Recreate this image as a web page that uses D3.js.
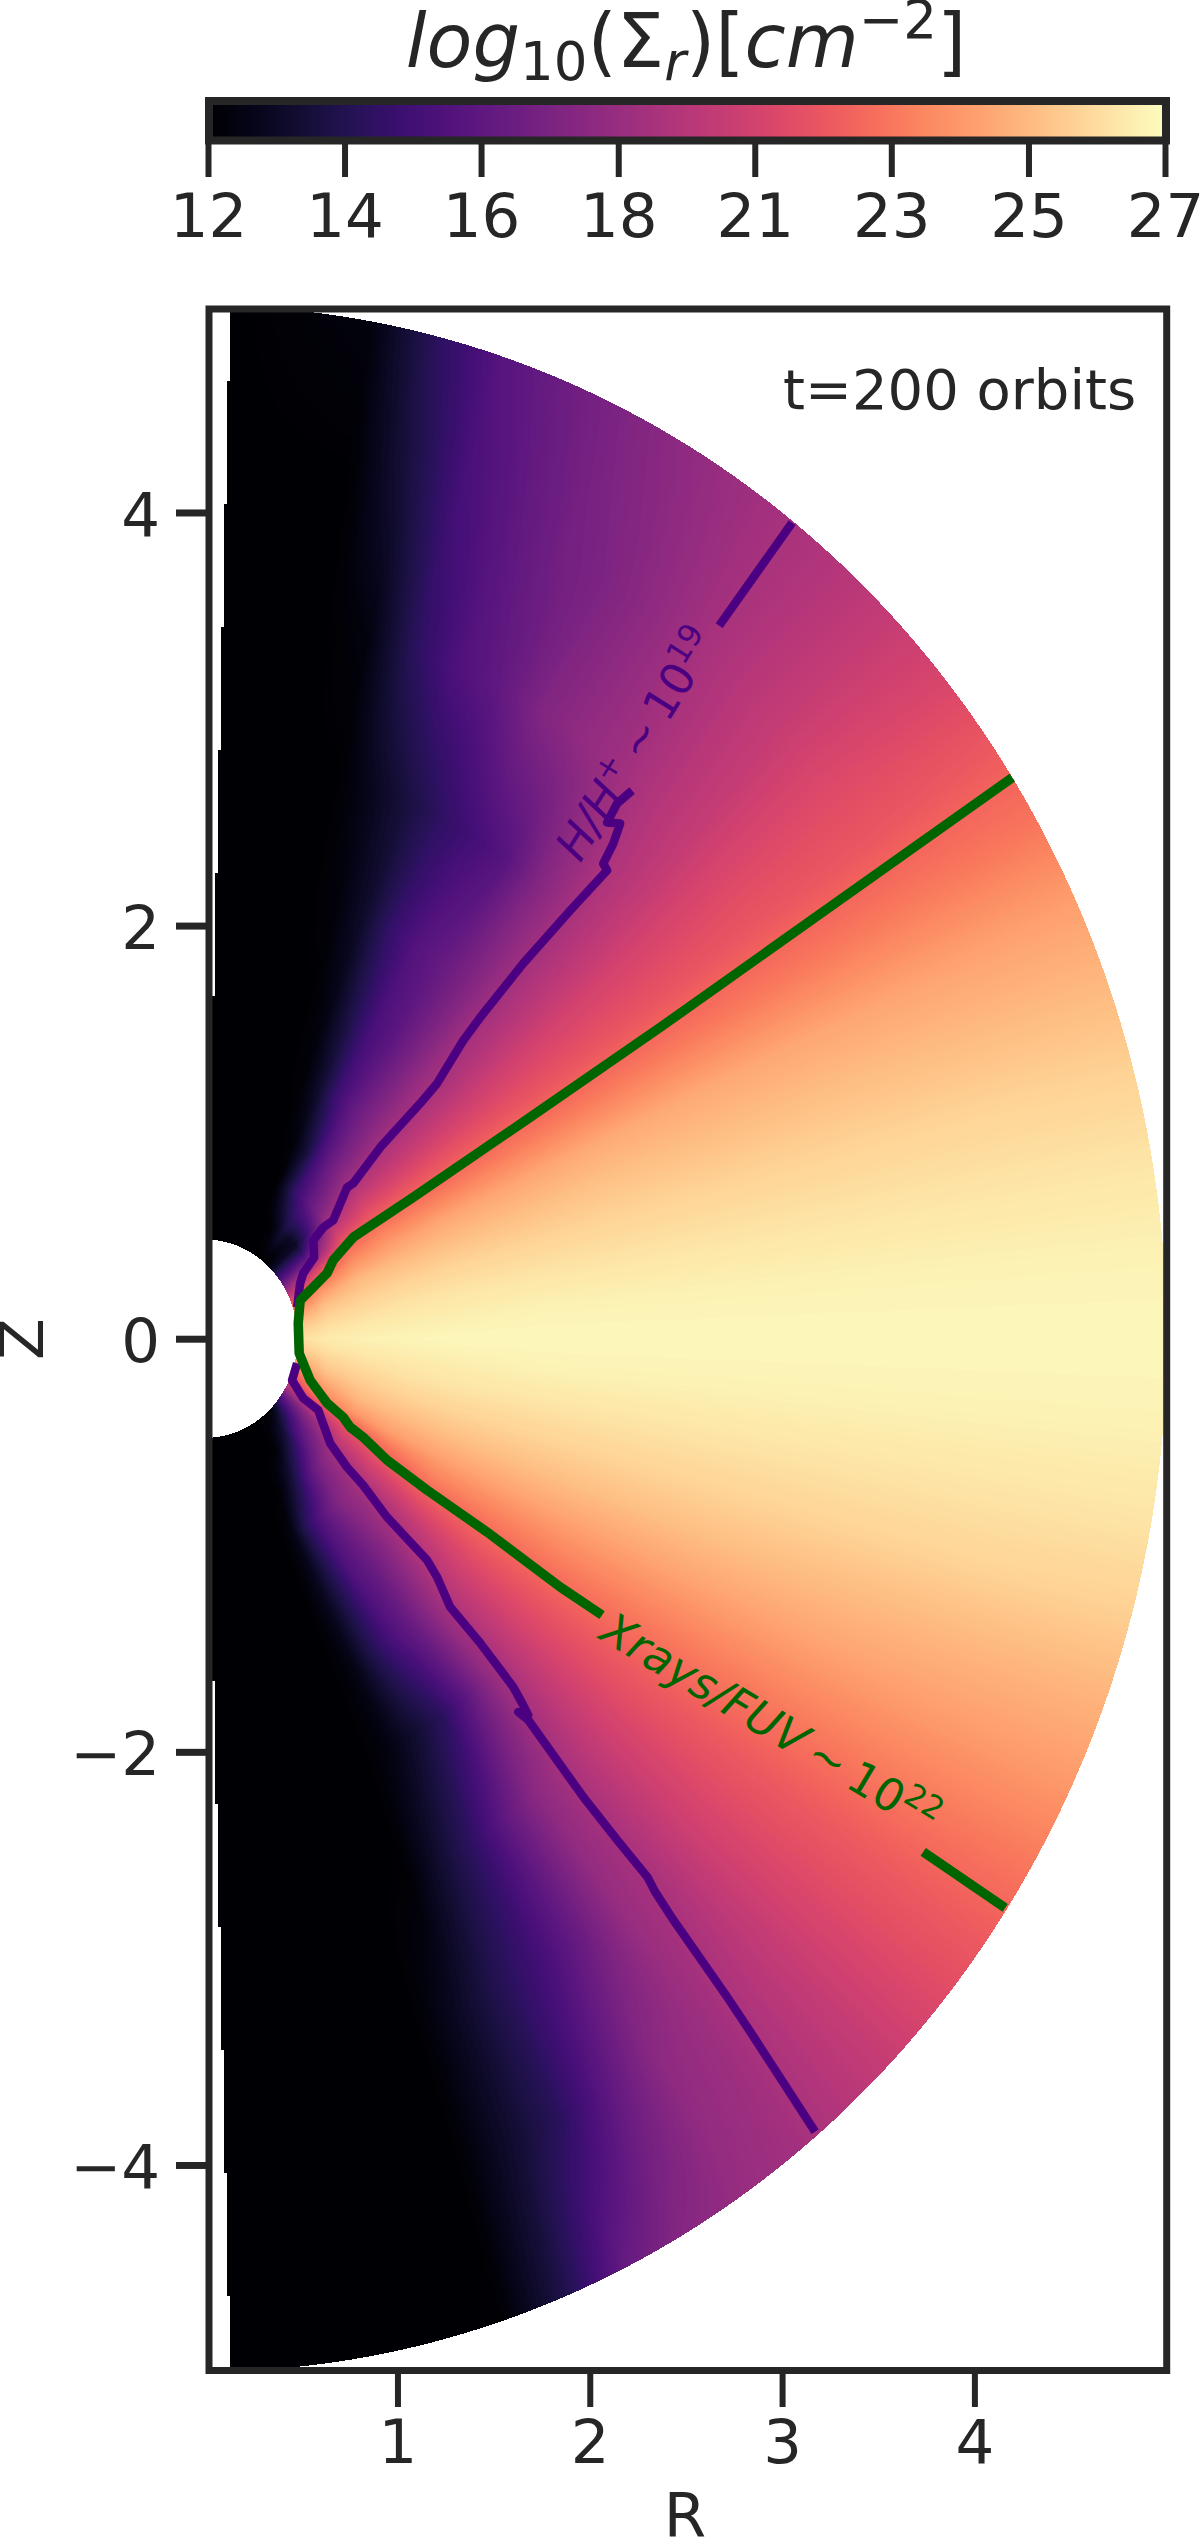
<!DOCTYPE html>
<html>
<head>
<meta charset="utf-8">
<script src="https://cdn.jsdelivr.net/npm/d3@7"></script>
<style>
  html, body { margin: 0; padding: 0; background: #fff; }
  svg { display: block; }
  text { font-family: "DejaVu Sans"; fill: #262626; }
</style>
</head>
<body>
<div id="chart"></div>
<script>
// tick values and labels
var xTicks = [1, 2, 3, 4];
var yTicks = [-4, -2, 0, 2, 4];
var cbarTicks = [12, 14.14, 16.28, 18.43, 20.57, 22.71, 24.86, 27];
var cbarLabels = ["12", "14", "16", "18", "21", "23", "25", "27"];

// column density, log10(cm^-2)
// radii of the columns and elevation above the midplane (degrees) of the rows
var radii = [0.48, 0.65, 0.85, 1.05, 1.35, 1.75, 2.2, 2.8, 3.5, 4.2, 5];
var elevations = [-88.5, -80, -76, -72, -68, -64, -60, -56, -52, -48, -44, -40, -35, -30, -25, -20, -15, -10, -5, 0,
                  5, 10, 15, 20, 25, 30, 35, 40, 44, 48, 52, 56, 60, 64, 68, 72, 76, 80, 88.5];
var sigma = [
  [12, 12, 12, 12, 12, 12, 12, 12, 12, 12, 12],
  [12, 12, 12, 12, 12, 12, 12, 12, 12, 12, 12],
  [12, 12, 12, 12, 12, 12, 12, 12, 12, 12, 12],
  [12, 12, 12, 12, 12, 12, 12, 12, 12, 12, 12.1],
  [12, 12, 12, 12, 12, 12, 12, 12.1, 13, 13.2, 14],
  [12, 12, 12, 12.6, 12.8, 12.6, 12.5, 13.4, 14.2, 14.4, 16.6],
  [12, 12, 12.8, 14.4, 14.2, 14.2, 13.4, 14.7, 15.3, 16.3, 17.8],
  [12, 12.2, 14, 15.7, 15.8, 15.6, 14.4, 16.4, 16.7, 18, 18.4],
  [12, 13, 15.5, 16.8, 16.6, 16.7, 16.2, 18, 18.4, 18.6, 18.8],
  [12, 14, 16.8, 17.8, 17.6, 18.2, 18.2, 19, 19.1, 19.4, 19.5],
  [12.5, 15.5, 17.8, 18.4, 18.7, 19.5, 19.6, 20, 20.2, 20.2, 20.2],
  [14, 16.5, 18.6, 19.2, 19.7, 20.5, 20.7, 20.9, 21, 21, 21],
  [16, 18, 20, 20.7, 21.3, 21.7, 21.8, 21.9, 21.9, 21.9, 21.9],
  [18.5, 20.3, 21.5, 22.2, 22.9, 22.9, 23, 23, 23, 23, 22.9],
  [20.5, 23, 23.7, 24, 24.1, 24.1, 24.1, 24.1, 24.1, 24, 23.9],
  [22.1, 24, 24.8, 24.9, 25, 25, 25, 25, 24.9, 24.8, 24.7],
  [23.5, 25, 25.4, 25.6, 25.7, 25.7, 25.7, 25.7, 25.7, 25.7, 25.6],
  [24.7, 25.6, 25.9, 26.1, 26.2, 26.2, 26.2, 26.2, 26.2, 26.2, 26.2],
  [25.5, 26.1, 26.3, 26.4, 26.5, 26.6, 26.6, 26.6, 26.6, 26.6, 26.6],
  [26, 26.4, 26.6, 26.7, 26.8, 26.8, 26.8, 26.8, 26.8, 26.8, 26.8],
  [25.5, 26.1, 26.3, 26.4, 26.5, 26.6, 26.6, 26.6, 26.6, 26.6, 26.6],
  [24.7, 25.6, 25.9, 26.1, 26.2, 26.2, 26.2, 26.2, 26.2, 26.2, 26.2],
  [23.5, 25, 25.4, 25.6, 25.7, 25.7, 25.7, 25.7, 25.7, 25.7, 25.6],
  [22.1, 24, 24.8, 24.9, 25, 25, 25.1, 25, 25, 24.9, 24.8],
  [20, 22.5, 23.7, 24, 24.2, 24.2, 24.3, 24.3, 24.2, 24.1, 24],
  [18, 20.5, 22.5, 22.9, 22.8, 22.8, 22.8, 22.8, 22.8, 22.8, 22.7],
  [16, 17, 21, 21.5, 21.5, 21.5, 21.5, 21.5, 21.6, 21.6, 21.7],
  [14.5, 14.5, 19.3, 20.2, 20.2, 20.3, 20.5, 20.6, 20.8, 20.9, 20.7],
  [13, 13, 18, 19.1, 19.3, 19.3, 19.5, 19.7, 20, 20.2, 20.1],
  [12, 13, 17, 17.9, 18.3, 18.5, 18.6, 18.8, 19.4, 19.6, 19.5],
  [12, 13.5, 16, 16.8, 17.3, 17.3, 17.4, 17.6, 18.7, 19, 19.05],
  [12, 12.5, 15, 15.5, 16.3, 16.2, 16.5, 16, 18.2, 18.2, 18.6],
  [12, 12, 13.5, 13.5, 15, 15.5, 15.9, 15.3, 17.6, 17.5, 18.1],
  [12, 12, 12, 12.3, 13.2, 14, 14.8, 14.6, 16.4, 17, 17.5],
  [12, 12, 12, 12, 12.2, 12.6, 13.2, 13.7, 15.7, 16.2, 16.8],
  [12, 12, 12, 12, 12, 12, 12.3, 12.8, 14.4, 15.3, 16],
  [12, 12, 12, 12, 12, 12, 12, 12, 12.4, 13.5, 14.5],
  [12, 12, 12, 12, 12, 12, 12, 12, 12, 12, 12.4],
  [12, 12, 12, 12, 12, 12, 12, 12, 12, 12, 12]
];

// contour lines [R, Z]
var purpleUpperInner = [[0.478, 0.152], [0.494, 0.268], [0.51, 0.317], [0.567, 0.394], [0.562, 0.476], [0.614, 0.539],
  [0.666, 0.573], [0.738, 0.733], [0.77, 0.752], [0.91, 0.926], [1.118, 1.139], [1.206, 1.236], [1.342, 1.444],
  [1.43, 1.555], [1.654, 1.817], [1.898, 2.073], [2.09, 2.267], [2.07, 2.3], [2.122, 2.397], [2.158, 2.494],
  [2.09, 2.499], [2.142, 2.591], [2.22, 2.654]];
var purpleUpperOuter = [[2.673, 3.452], [3.052, 3.95]];
var purpleLower = [[0.478, -0.119], [0.452, -0.201], [0.51, -0.288], [0.588, -0.346], [0.65, -0.506], [0.738, -0.622],
  [0.821, -0.709], [0.946, -0.864], [1.154, -1.072], [1.206, -1.154], [1.274, -1.299], [1.43, -1.473], [1.602, -1.686],
  [1.648, -1.764], [1.68, -1.822], [1.628, -1.807], [1.68, -1.846], [1.966, -2.218], [2.142, -2.426], [2.299, -2.605],
  [2.34, -2.678], [2.434, -2.813], [2.714, -3.186], [2.818, -3.331], [3.172, -3.839]];
var greenMain = [[4.197, 2.716], [2.366, 1.507], [1.69, 1.072], [1.082, 0.685], [0.77, 0.491], [0.666, 0.38],
  [0.634, 0.317], [0.494, 0.186], [0.484, 0.075], [0.489, -0.07], [0.546, -0.201], [0.634, -0.312], [0.718, -0.38],
  [0.754, -0.428], [0.822, -0.477], [0.946, -0.588], [1.154, -0.733], [1.466, -0.936], [1.846, -1.202], [2.064, -1.338]];
var greenOuter = [[3.734, -2.484], [4.16, -2.755]];

// wedge limits
var rInner = 0.48, rOuter = 5, poleGap = 88.5;

var margin = {top: 309, right: 33.3, bottom: 166.5, left: 209};
var width = 1200 - margin.left - margin.right;
var height = 2537 - margin.top - margin.bottom;

var svg = d3.select("#chart").append("svg")
    .attr("width", 1200)
    .attr("height", 2537);

var x = d3.scaleLinear().domain([0.02, 5]).range([0, width]);
var y = d3.scaleLinear().domain([-4.995, 4.985]).range([height, 0]);
var color = d3.scaleSequential(d3.interpolateMagma).domain([12, 27]).clamp(true);

// look up the table with smooth shading between its nodes
function lookup(r, e) {
  var i = Math.min(Math.max(d3.bisectRight(radii, r), 1), radii.length - 1);
  var j = Math.min(Math.max(d3.bisectRight(elevations, e), 1), elevations.length - 1);
  var u = (r - radii[i - 1]) / (radii[i] - radii[i - 1]);
  var v = (e - elevations[j - 1]) / (elevations[j] - elevations[j - 1]);
  var a = sigma[j - 1][i - 1] * (1 - u) + sigma[j - 1][i] * u;
  var b = sigma[j][i - 1] * (1 - u) + sigma[j][i] * u;
  return a * (1 - v) + b * v;
}

// raster of the field
var canvas = document.createElement("canvas");
canvas.width = Math.round(width);
canvas.height = Math.round(height);
var ctx = canvas.getContext("2d");
var img = ctx.createImageData(canvas.width, canvas.height);
var palette = d3.range(601).map(function(i) { return d3.rgb(color(12 + i / 40)); });
var k = 0;
for (var py = 0; py < canvas.height; py++) {
  for (var px = 0; px < canvas.width; px++, k += 4) {
    var R = x.invert(px + 0.5), Z = y.invert(py + 0.5);
    // the inner edge of the original is stepped
    var Rq = x.invert(Math.floor(px / 3) * 3 + 1.5);
    var r = Math.hypot(R, Z);
    var e = Math.atan2(Z, Rq) * 180 / Math.PI;
    if (r < rInner || r > rOuter || Math.abs(e) > poleGap) continue;
    var c = palette[Math.round((Math.min(27, lookup(r, Math.atan2(Z, R) * 180 / Math.PI)) - 12) * 40)];
    img.data[k] = c.r; img.data[k + 1] = c.g; img.data[k + 2] = c.b; img.data[k + 3] = 255;
  }
}
ctx.putImageData(img, 0, 0);

var plot = svg.append("g")
    .attr("transform", "translate(" + margin.left + "," + margin.top + ")");

plot.append("image")
    .attr("width", canvas.width)
    .attr("height", canvas.height)
    .attr("href", canvas.toDataURL());

// contours
var line = d3.line()
    .x(function(d) { return x(d[0]); })
    .y(function(d) { return y(d[1]); });

[purpleUpperInner, purpleUpperOuter, purpleLower].forEach(function(d) {
  plot.append("path").datum(d)
      .attr("d", line)
      .attr("fill", "none")
      .attr("stroke", "#4b0082")
      .attr("stroke-width", 8.5)
      .attr("stroke-linejoin", "round");
});
[greenMain, greenOuter].forEach(function(d) {
  plot.append("path").datum(d)
      .attr("d", line)
      .attr("fill", "none")
      .attr("stroke", "#006400")
      .attr("stroke-width", 9.5)
      .attr("stroke-linejoin", "round");
});

// contour labels: [text, shift, small?, italic?]
function contourLabel(R, Z, angle, size, fill, parts) {
  var t = plot.append("text")
      .attr("transform", "translate(" + x(R) + "," + y(Z) + ") rotate(" + angle + ")")
      .attr("font-size", size)
      .style("fill", fill);
  parts.forEach(function(p) {
    t.append("tspan")
        .attr("font-size", p[2] ? size * 0.7 : size)
        .attr("font-style", p[3] ? "italic" : "normal")
        .attr("dy", p[1])
        .text(p[0]);
  });
}
contourLabel(2.04, -1.449, 31, 45, "#006400",
    [["Xrays/FUV", 0, false, true], ["\u2009~\u2009", 0, false, false], ["10", 0, false, false], ["22", -17, true, false]]);
contourLabel(1.95, 2.3, -58, 45, "#4b0082",
    [["H/H", 0, false, true], ["+", -17, true, false], ["\u2009~\u2009", 17, false, false], ["10", 0, false, false], ["19", -17, true, false]]);

plot.append("text")
    .attr("x", 574)
    .attr("y", 100)
    .attr("font-size", 56)
    .text("t=200 orbits");

// frame
plot.append("rect")
    .attr("width", width)
    .attr("height", height)
    .attr("fill", "none")
    .attr("stroke", "#262626")
    .attr("stroke-width", 7);

// axes
var xAxis = svg.append("g")
    .attr("transform", "translate(" + margin.left + ",2374)")
    .call(d3.axisBottom(x).tickValues(xTicks).tickFormat(d3.format("d")).tickSize(33));
xAxis.select(".domain").remove();
xAxis.selectAll("line").attr("stroke", "#262626").attr("stroke-width", 6);
xAxis.selectAll("text").attr("y", 89).attr("dy", 0).attr("font-size", 61).attr("font-family", "DejaVu Sans");

var yAxis = svg.append("g")
    .attr("transform", "translate(206," + margin.top + ")")
    .call(d3.axisLeft(y).tickValues(yTicks).tickSize(30));
yAxis.select(".domain").remove();
yAxis.selectAll("line").attr("stroke", "#262626").attr("stroke-width", 7);
yAxis.selectAll("text").attr("x", -46).attr("dy", 23).attr("font-size", 61).attr("font-family", "DejaVu Sans");

svg.append("text")
    .attr("x", 685)
    .attr("y", 2537)
    .attr("text-anchor", "middle")
    .attr("font-size", 61)
    .text("R");

svg.append("text")
    .attr("transform", "translate(43,1339) rotate(-90)")
    .attr("text-anchor", "middle")
    .attr("font-size", 61)
    .text("Z");

// colorbar
var cbar = d3.scaleLinear().domain([12, 27]).range([208, 1165]);

var grad = svg.append("defs").append("linearGradient")
    .attr("id", "magma");
grad.selectAll("stop")
    .data(d3.range(0, 1.001, 0.05))
  .enter().append("stop")
    .attr("offset", function(d) { return d; })
    .attr("stop-color", function(d) { return color(12 + 15 * d); });

svg.append("rect")
    .attr("x", cbar(12) + 1)
    .attr("y", 101)
    .attr("width", cbar(27) - cbar(12))
    .attr("height", 39.5)
    .attr("fill", "url(#magma)")
    .attr("stroke", "#262626")
    .attr("stroke-width", 8);

var cbarAxis = svg.append("g")
    .attr("transform", "translate(0,144)")
    .call(d3.axisBottom(cbar).tickValues(cbarTicks).tickFormat(function(d, i) { return cbarLabels[i]; }).tickSize(33));
cbarAxis.select(".domain").remove();
cbarAxis.selectAll("line").attr("stroke", "#262626").attr("stroke-width", 6);
cbarAxis.selectAll("text").attr("y", 93).attr("dy", 0).attr("font-size", 61).attr("font-family", "DejaVu Sans");

// colorbar title
var title = svg.append("text")
    .attr("x", 686)
    .attr("y", 67)
    .attr("text-anchor", "middle")
    .attr("font-size", 75);
[["log", 0, 75, "italic"], ["10", 13, 53, "normal"], ["(Σ", -13, 75, "normal"], ["r", 13, 53, "italic"],
 [")[", -13, 75, "normal"], ["cm", 0, 75, "italic"], ["−2", -29, 53, "normal"], ["]", 29, 75, "normal"]].forEach(function(p) {
  title.append("tspan")
      .attr("dy", p[1])
      .attr("font-size", p[2])
      .attr("font-style", p[3])
      .text(p[0]);
});
</script>
</body>
</html>
